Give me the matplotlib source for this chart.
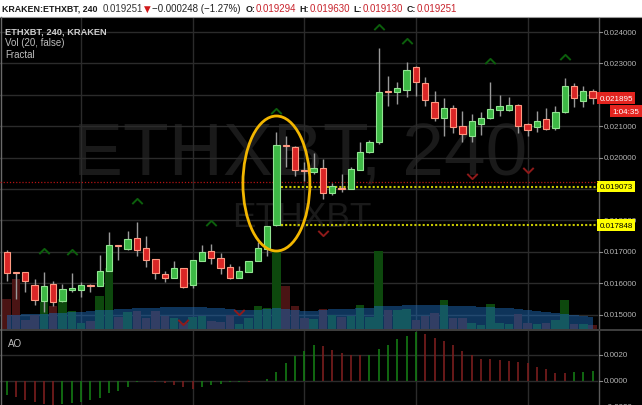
import matplotlib
matplotlib.use('Agg')
import matplotlib.pyplot as plt
import numpy as np
from matplotlib.patches import Ellipse, Rectangle
from matplotlib.path import Path
from matplotlib.lines import Line2D
from matplotlib.transforms import offset_copy

plt.rcParams['font.family'] = ['Liberation Sans', 'DejaVu Sans']

# ---------------- data ----------------
opens = [0.01699, 0.01636, 0.01636, 0.01594, 0.01543, 0.01597, 0.01543, 0.01578, 0.01578, 0.01594,
         0.01591, 0.01639, 0.01722, 0.01709, 0.01744, 0.01712, 0.01677, 0.01629, 0.01617, 0.01648,
         0.01594, 0.01671, 0.01703, 0.01680, 0.01652, 0.01617, 0.01636, 0.01671, 0.01709, 0.017848,
         0.02040, 0.02034, 0.01961, 0.01954, 0.01967, 0.01887, 0.01903, 0.01900, 0.01961, 0.02018,
         0.02050, 0.02212, 0.02209, 0.02215, 0.02289, 0.02238, 0.02177, 0.02126, 0.02158, 0.02101,
         0.02069, 0.02107, 0.02126, 0.02152, 0.02152, 0.02168, 0.02107, 0.02097, 0.02123, 0.02094,
         0.02145, 0.02228, 0.02180, 0.02212]
highs = [0.01706, 0.01636, 0.01636, 0.01613, 0.01636, 0.01607, 0.01597, 0.01632, 0.01604, 0.01597,
         0.01690, 0.01763, 0.01722, 0.01766, 0.01795, 0.01750, 0.01677, 0.01639, 0.01671, 0.01648,
         0.01674, 0.01722, 0.01725, 0.01696, 0.01661, 0.01655, 0.01671, 0.01731, 0.01782, 0.02082,
         0.02069, 0.02037, 0.01986, 0.02015, 0.01996, 0.01919, 0.01948, 0.01970, 0.02050, 0.02056,
         0.02349, 0.02260, 0.02241, 0.02304, 0.02292, 0.02257, 0.02212, 0.02190, 0.02168, 0.02148,
         0.02139, 0.02145, 0.02241, 0.02199, 0.02193, 0.02171, 0.02110, 0.02148, 0.02158, 0.02164,
         0.02254, 0.02238, 0.02228, 0.02218]
lows = [0.01607, 0.01550, 0.01572, 0.01530, 0.01508, 0.01527, 0.01540, 0.01572, 0.01556, 0.01572,
        0.01591, 0.01639, 0.01674, 0.01706, 0.01687, 0.01652, 0.01613, 0.01604, 0.01617, 0.01585,
        0.01585, 0.01671, 0.01661, 0.01629, 0.01613, 0.01617, 0.01636, 0.01671, 0.01687, 0.01782,
        0.01970, 0.01941, 0.01925, 0.01948, 0.01868, 0.01881, 0.01890, 0.01900, 0.01961, 0.02015,
        0.02043, 0.02164, 0.02171, 0.02193, 0.02196, 0.02164, 0.02117, 0.02069, 0.02078, 0.02050,
        0.02050, 0.02072, 0.02123, 0.02132, 0.02148, 0.02078, 0.02069, 0.02082, 0.02088, 0.02088,
        0.02142, 0.02161, 0.02161, 0.02171]
closes = [0.01632, 0.01633, 0.01607, 0.01546, 0.01591, 0.01540, 0.01582, 0.01585, 0.01594, 0.01591,
          0.01639, 0.01722, 0.01718, 0.01741, 0.01706, 0.01674, 0.01632, 0.01617, 0.01648, 0.01588,
          0.01674, 0.01699, 0.01680, 0.01648, 0.01617, 0.01639, 0.01671, 0.01712, 0.01782, 0.02040,
          0.02037, 0.01961, 0.01957, 0.01967, 0.01887, 0.01910, 0.01900, 0.01964, 0.02018, 0.02050,
          0.02209, 0.02209, 0.02222, 0.02279, 0.02241, 0.02183, 0.02126, 0.02158, 0.02097, 0.02075,
          0.02117, 0.02126, 0.02155, 0.02164, 0.02168, 0.02101, 0.02088, 0.02117, 0.02091, 0.02145,
          0.02228, 0.02190, 0.02212, 0.021895]
volumes = [30, 50, 9, 14, 27, 23, 30, 18, 6, 8,
           33, 61, 12, 17, 18, 11, 18, 13, 11, 6,
           12, 13, 8, 7, 14, 5, 11, 23, 21, 78,
           43, 23, 11, 10, 20, 14, 12, 13, 24, 12,
           78, 19, 19, 20, 9, 13, 16, 29, 11, 11,
           6, 4, 25, 6, 5, 15, 6, 5, 6, 9,
           29, 5, 5, 4]
volume_ma = [14, 14, 15, 15, 15, 16, 16, 17, 17, 18,
             19, 19, 20, 20, 21, 21, 21, 22, 22, 22,
             22, 22, 21, 21, 20, 19, 19, 19, 20, 21,
             20, 19, 18, 18, 19, 20, 20, 20, 21, 21,
             23, 23, 23, 24, 24, 24, 24, 24, 23, 23,
             23, 22, 22, 21, 21, 20, 19, 18, 17, 16,
             15, 14, 13, 12]
ao = [-0.00108, -0.00128, -0.00146, -0.00162, -0.00180, -0.00190, -0.00180, -0.00172, -0.00162, -0.00150,
      -0.00133, -0.00097, -0.00080, -0.00046, -0.00008, -0.00002, -0.00008, -0.00018, -0.00030, -0.00050,
      -0.00064, -0.00050, -0.00030, -0.00023, -0.00013, -0.00008, -0.00013, -0.00005, 0.00013, 0.00064,
      0.00133, 0.00190, 0.00230, 0.00275, 0.00267, 0.00234, 0.00216, 0.00200, 0.00195, 0.00200,
      0.00240, 0.00278, 0.00317, 0.00343, 0.00377, 0.00358, 0.00332, 0.00304, 0.00273, 0.00231,
      0.00195, 0.00169, 0.00164, 0.00158, 0.00153, 0.00145, 0.00138, 0.00109, 0.00086, 0.00062,
      0.00060, 0.00068, 0.00070, 0.00078]
fractal_up = [4, 7, 14, 22, 29, 40, 43, 52, 60]
fractal_down = [19, 25, 34, 50, 56]
price_ticks = [0.015, 0.016, 0.017, 0.018, 0.020, 0.021, 0.023, 0.024]   # 0.019 / 0.022 hidden by boxes
ao_ticks = [-0.002, 0.0, 0.002, 0.004]
grid_prices = [0.015, 0.016, 0.017, 0.018, 0.019, 0.020, 0.021, 0.022, 0.023, 0.024]
grid_bars = [8, 20, 32, 44, 56]
red_level = 0.01922
yellow_levels = [0.019073, 0.017848]
last_price = 0.021895
countdown = '1:04:35'
symbol = 'ETHXBT'
header = [('KRAKEN:ETHXBT, 240', 'bold', '#1a1a1a'), ('0.019251', 'normal', '#333333'),
          ('\u25bc', 'normal', '#d0191b'), ('\u22120.000248 (\u22121.27%)', 'normal', '#222222'),
          ('O:', 'bold', '#1a1a1a'), ('0.019294', 'normal', '#c8232c'),
          ('H:', 'bold', '#1a1a1a'), ('0.019630', 'normal', '#c8232c'),
          ('L:', 'bold', '#1a1a1a'), ('0.019130', 'normal', '#c8232c'),
          ('C:', 'bold', '#1a1a1a'), ('0.019251', 'normal', '#c8232c')]
header_gap = [5, 1, 1, 5, 1, 3, 1, 3, 1, 3, 1, 0]

# ---------------- layout ----------------
W, H = 642, 406
fig = plt.figure(figsize=(W / 100, H / 100), dpi=100)
fig.patch.set_facecolor('black')


def ax_px(x0, y0, x1, y1, **kw):
    return fig.add_axes([x0 / W, 1 - y1 / H, (x1 - x0) / W, (y1 - y0) / H], **kw)


def bare(a):
    a.set_xticks([]); a.set_yticks([])
    for s in a.spines.values():
        s.set_visible(False)


n = len(opens)
x = np.arange(n)
o = np.array(opens); h = np.array(highs); l = np.array(lows); c = np.array(closes)
up = c >= o
XL = (-0.72, 63.58)
YL = (0.014541, 0.024478)
GRID = '#2b2b2b'

# volume axes (bottom layer) and price axes on top
axv = ax_px(0, 18, 598, 330)
axv.set_facecolor('black')
ax = axv.twinx()
ax.set_zorder(axv.get_zorder() + 1)
ax.patch.set_visible(False)
for a in (ax, axv):
    a.set_xlim(*XL)
    bare(a)
ax.set_ylim(*YL)
axv.set_ylim(0, 312)

# watermark
axv.text(0.5017, 0.4936, f'{symbol}, 240', transform=axv.transAxes, ha='center', va='baseline',
         fontsize=54, color='#1a1a1a', zorder=0)
axv.text(0.505, 0.330, symbol, transform=axv.transAxes, ha='center', va='baseline',
         fontsize=25.5, color='#1a1a1a', zorder=0)

# grid (behind volume)
for p in grid_prices:
    axv.add_line(Line2D(list(XL), [p, p], transform=ax.transData, color=GRID, lw=1, zorder=0.5))
for gb in grid_bars:
    axv.axvline(gb, color=GRID, lw=1, zorder=0.5)

# volume bars + MA area
vcol = ['#0d480d' if u else '#4a1414' for u in up]
axv.bar(x, volumes, width=0.92, color=vcol, zorder=1)
axv.fill_between(x, 0, volume_ma, step='mid', color='#1c68b4', alpha=0.5, lw=0, zorder=2)

# candles
ax.vlines(x, l, h, color='#9a9a9a', lw=1, zorder=3)
body_b = np.minimum(o, c)
body_h = np.maximum(np.abs(c - o), 0.00004)
ax.bar(x, body_h, bottom=body_b, width=0.68,
       color=['#3db845' if u else '#d92626' for u in up],
       edgecolor=['#92e592' if u else '#ff9a82' for u in up], lw=0.8, zorder=4)

# fractals
chev_up = Path([(-1, -0.5), (0, 0.5), (1, -0.5)], [Path.MOVETO, Path.LINETO, Path.LINETO])
chev_dn = Path([(-1, 0.5), (0, -0.5), (1, 0.5)], [Path.MOVETO, Path.LINETO, Path.LINETO])
tr_up = offset_copy(ax.transData, fig=fig, x=0, y=21, units='dots')
tr_dn = offset_copy(ax.transData, fig=fig, x=0, y=-34, units='dots')
ax.plot(fractal_up, h[fractal_up], ls='none', marker=chev_up, ms=7.5, mfc='none', mec='#0c5f0c',
        mew=1.4, transform=tr_up, zorder=5)
ax.plot(fractal_down, l[fractal_down], ls='none', marker=chev_dn, ms=7.5, mfc='none', mec='#8f1a1a',
        mew=1.4, transform=tr_dn, zorder=5)

# levels
ax.axhline(red_level, color='#b31313', lw=0.9, ls=(0, (1, 1.5)), zorder=2.5)
ax.hlines(yellow_levels, 29.5, XL[1], color='#c9c900', lw=1.5, ls=(0, (1, 1)), zorder=2.5)

# ellipse around the breakout candle
ax.add_patch(Ellipse((29.0, 0.019175), width=7.2, height=0.0043, fill=False,
                     ec='#f2b600', lw=2, zorder=6))

# right price scale
axr = ax_px(598, 18, 642, 330)
axr.set_facecolor('black')
axr.set_xlim(0, 44); axr.set_ylim(*YL)
bare(axr)
axr.axvline(0.5, color='#5a5a5a', lw=1)
for p in grid_prices:
    axr.plot([0.5, 3.5], [p, p], color='#8a8a8a', lw=0.8)
for p in price_ticks:
    axr.text(6, p, f'{p:.6f}', va='center', ha='left', color='#b4b4b4', fontsize=5.8, clip_on=True)
box = dict(boxstyle='square,pad=0.28', ec='none')
axr.text(1.5, last_price, f'{last_price:.6f}', va='center', ha='left', color='white', fontsize=5.8,
         bbox=dict(box, fc='#e3241f'), zorder=5)
axr.text(41.5, last_price, countdown, va='center', ha='right', color='white', fontsize=5.8,
         bbox=dict(box, fc='#e3241f'), zorder=5,
         transform=offset_copy(axr.transData, fig=fig, x=0, y=-13, units='dots'))
for p in yellow_levels:
    axr.text(1.5, p, f'{p:.6f}', va='center', ha='left', color='black', fontsize=5.8,
             bbox=dict(box, fc='#ffff00'), zorder=5)

# AO pane
AOL = (-0.00187, 0.00382)
axo = ax_px(0, 332, 598, 406)
axo.set_facecolor('black')
axo.set_xlim(*XL); axo.set_ylim(*AOL)
bare(axo)
for t in ao_ticks:
    axo.axhline(t, color=GRID, lw=1, zorder=0)
for gb in grid_bars:
    axo.axvline(gb, color=GRID, lw=1, zorder=0)
ao_arr = np.array(ao)
rising = np.r_[True, ao_arr[1:] >= ao_arr[:-1]]
axo.vlines(x, 0, ao_arr, colors=['#147a14' if r else '#7a1d1d' for r in rising], lw=1.2, zorder=2)

axor = ax_px(598, 332, 642, 406)
axor.set_facecolor('black')
axor.set_xlim(0, 44); axor.set_ylim(*AOL)
bare(axor)
axor.axvline(0.5, color='#5a5a5a', lw=1)
for t in ao_ticks:
    axor.plot([0.5, 3.5], [t, t], color='#8a8a8a', lw=0.8)
    axor.text(6, t, f'{t:.4f}'.replace('-', '\u2212'), va='center', ha='left', color='#b4b4b4',
              fontsize=5.8, clip_on=True)

# overlay in pixel coords: header, separators, pane titles
ov = fig.add_axes([0, 0, 1, 1])
ov.set_xlim(0, W); ov.set_ylim(H, 0); ov.axis('off')
ov.add_patch(Rectangle((0, 0), W, 17.5, fc='white', ec='none'))
ov.plot([0, W], [17.5, 17.5], color='#9a9a9a', lw=0.8)
ov.plot([0, W], [331, 331], color='#4a4a4a', lw=1.2)
ov.plot([0.5, 0.5], [18, H], color='#6a6a6a', lw=1)

renderer = fig.canvas.get_renderer()
hx = 2.0
for (txt, wt, col), gap in zip(header, header_gap):
    if txt == '\u25bc':
        t = ov.text(hx, 11.5, txt, fontsize=6.3, color=col, ha='left', va='baseline',
                    family=['DejaVu Sans'])
    else:
        t = ov.text(hx, 11.5, txt, fontsize=6.4 if wt == 'bold' else 7.0, fontweight=wt,
                    color=col, ha='left', va='baseline')
    hx += t.get_window_extent(renderer).width + gap

ov.text(5, 34, 'ETHXBT, 240, KRAKEN', fontsize=6.7, fontweight='bold', color='#cfcfcf', va='baseline')
ov.text(5, 46, 'Vol (20, false)', fontsize=7, color='#bdbdbd', va='baseline')
ov.text(5, 58, 'Fractal', fontsize=7, color='#bdbdbd', va='baseline')
ov.text(8, 347, 'AO', fontsize=7, color='#bdbdbd', va='baseline')

fig.savefig('out.png', dpi=100, facecolor='black')
